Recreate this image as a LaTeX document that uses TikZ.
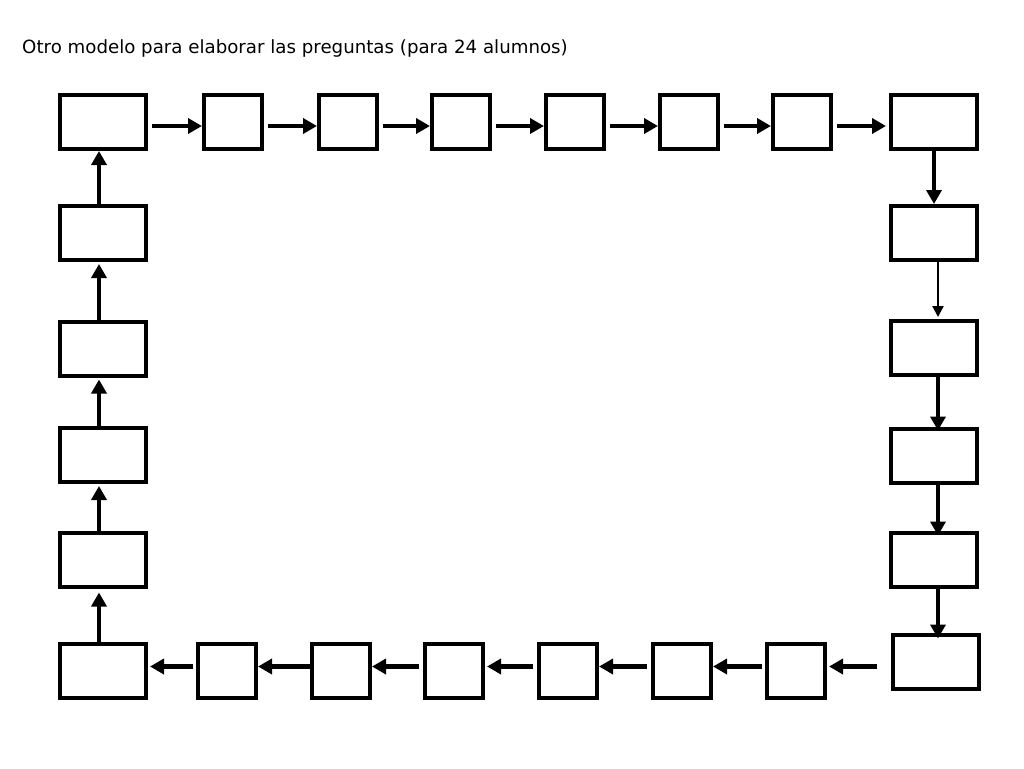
\documentclass[tikz,border=0pt]{standalone}
\usepackage{fontspec}
\setmainfont{DejaVu Sans}
\usetikzlibrary{arrows.meta,positioning}
\tikzstyle{box} = [draw,line width=4pt,inner sep=0pt,minimum width=58pt,minimum height=54pt]
\tikzstyle{bigbox} = [box,minimum width=86pt]
\tikzstyle{flow} = [line width=4.5pt,-{Triangle[length=14pt,width=15pt]}]
\tikzstyle{thinflow} = [line width=2.2pt,-{Triangle[length=11pt,width=11pt]}]

\begin{document}
\begin{tikzpicture}[x=1pt,y=-1pt]
    \useasboundingbox (0,0) rectangle (1024,768);
    \node [anchor=base west,inner sep=0pt,font=\fontsize{18.2}{22}\selectfont] (title) at (22,53)
      {Otro modelo para elaborar las preguntas (para 24 alumnos)};
    % top row
    \node [bigbox] (t1) at (103,122) {};
    \node [box] (t2) at (233,122) {};
    \node [box] (t3) at (348,122) {};
    \node [box] (t4) at (461,122) {};
    \node [box] (t5) at (575,122) {};
    \node [box] (t6) at (689,122) {};
    \node [box] (t7) at (802,122) {};
    \node [bigbox] (t8) at (934,122) {};
    % right column
    \node [bigbox] (r1) at (934,233) {};
    \node [bigbox] (r2) at (934,348) {};
    \node [bigbox] (r3) at (934,455.5) {};
    \node [bigbox] (r4) at (934,559.5) {};
    \node [bigbox] (r5) at (936,661.5) {};
    % bottom row
    \node [box] (b1) at (796,670.5) {};
    \node [box] (b2) at (682,670.5) {};
    \node [box] (b3) at (568,670.5) {};
    \node [box] (b4) at (454,670.5) {};
    \node [box] (b5) at (341,670.5) {};
    \node [box] (b6) at (227,670.5) {};
    \node [bigbox] (b7) at (103,670.5) {};
    % left column
    \node [bigbox] (l1) at (103,559.5) {};
    \node [bigbox] (l2) at (103,455) {};
    \node [bigbox] (l3) at (103,348.5) {};
    \node [bigbox] (l4) at (103,233) {};

    \draw [flow,shorten <=4pt] ([yshift=-4pt]t1.east) -- ([yshift=-4pt]t2.west);
    \draw [flow,shorten <=4pt] ([yshift=-4pt]t2.east) -- ([yshift=-4pt]t3.west);
    \draw [flow,shorten <=4pt] ([yshift=-4pt]t3.east) -- ([yshift=-4pt]t4.west);
    \draw [flow,shorten <=4pt] ([yshift=-4pt]t4.east) -- ([yshift=-4pt]t5.west);
    \draw [flow,shorten <=4pt] ([yshift=-4pt]t5.east) -- ([yshift=-4pt]t6.west);
    \draw [flow,shorten <=4pt] ([yshift=-4pt]t6.east) -- ([yshift=-4pt]t7.west);
    \draw [flow,shorten <=4pt,shorten >=3pt] ([yshift=-4pt]t7.east) -- ([yshift=-4pt]t8.west);

    \draw [flow] (t8.south) -- (r1.north);
    \draw [thinflow,shorten >=2pt] ([xshift=4pt]r1.south) -- ([xshift=4pt]r2.north);
    \draw [flow,shorten >=-4pt] ([xshift=4pt]r2.south) -- ([xshift=4pt]r3.north);
    \draw [flow,shorten <=-3pt,shorten >=-5pt] ([xshift=4pt]r3.south) -- ([xshift=4pt]r4.north);
    \draw [flow,shorten <=-4pt,shorten >=-6pt] ([xshift=4pt]r4.south) -- ([xshift=4pt]r4.south |- r5.north);

    \draw [flow,shorten <=14pt,shorten >=2pt] ([yshift=4pt]r5.west |- b1.east) -- ([yshift=4pt]b1.east);
    \draw [flow,shorten <=3pt] ([yshift=4pt]b1.west) -- ([yshift=4pt]b2.east);
    \draw [flow,shorten <=4pt] ([yshift=4pt]b2.west) -- ([yshift=4pt]b3.east);
    \draw [flow,shorten <=4pt,shorten >=2pt] ([yshift=4pt]b3.west) -- ([yshift=4pt]b4.east);
    \draw [flow,shorten <=4pt] ([yshift=4pt]b4.west) -- ([yshift=4pt]b5.east);
    \draw [flow] ([yshift=4pt]b5.west) -- ([yshift=4pt]b6.east);
    \draw [flow,shorten <=3pt,shorten >=2pt] ([yshift=4pt]b6.west) -- ([yshift=4pt]b7.east);

    \draw [flow,shorten >=4pt] ([xshift=-4pt]b7.north) -- ([xshift=-4pt]l1.south);
    \draw [flow,shorten >=2pt] ([xshift=-4pt]l1.north) -- ([xshift=-4pt]l2.south);
    \draw [flow,shorten >=2pt] ([xshift=-4pt]l2.north) -- ([xshift=-4pt]l3.south);
    \draw [flow,shorten <=-4pt,shorten >=2pt] ([xshift=-4pt]l3.north) -- ([xshift=-4pt]l4.south);
    \draw [flow] ([xshift=-4pt]l4.north) -- ([xshift=-4pt]t1.south);
\end{tikzpicture}
\end{document}
